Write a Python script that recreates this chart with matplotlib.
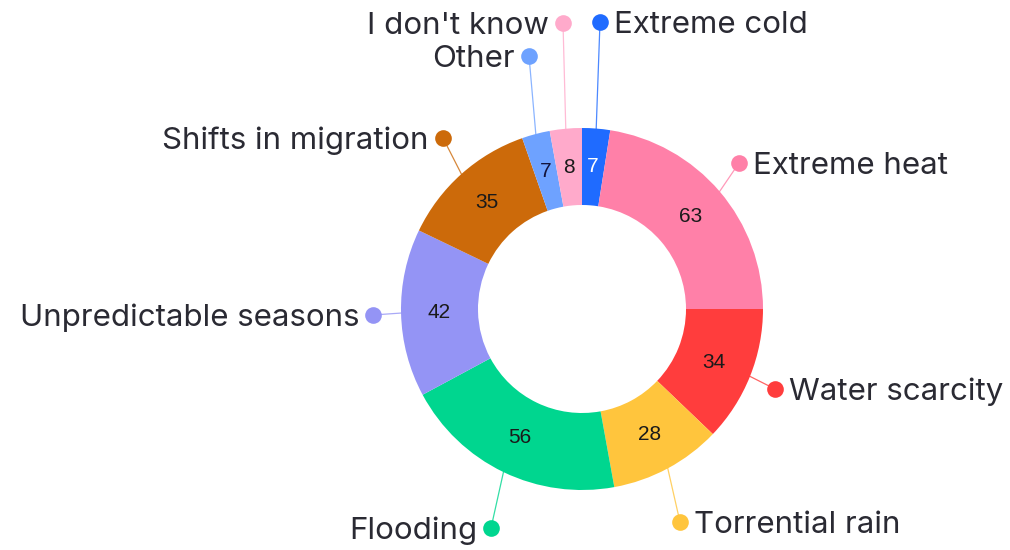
import numpy as np
import matplotlib
matplotlib.use("Agg")
import matplotlib.pyplot as plt

categories = ["Extreme cold", "Extreme heat", "Water scarcity", "Torrential rain",
              "Flooding", "Unpredictable seasons", "Shifts in migration", "Other",
              "I don't know"]
values = [7, 63, 34, 28, 56, 42, 35, 7, 8]
colors = ["#1f6bff", "#ff80a8", "#ff3d3d", "#ffc53d", "#00d68f", "#9494f5",
          "#cc6a0a", "#6ea2ff", "#ffaacb"]
value_colors = ["white", "#1a1a1a", "#1a1a1a", "#1a1a1a", "#1a1a1a", "#1a1a1a",
                "#1a1a1a", "#14143c", "#1a1a1a"]

W, H = 1010, 550
fig = plt.figure(figsize=(W / 100, H / 100), dpi=100)
ax = fig.add_axes([0, 0, 1, 1])
ax.set_xlim(0, W)
ax.set_ylim(0, H)
ax.set_aspect("equal")
ax.axis("off")

cx, cy = 582, H - 309
R = 181
width = 77

wedges, _ = ax.pie(values, colors=colors, startangle=90, counterclock=False,
                   radius=R, center=(cx, cy), frame=True,
                   wedgeprops=dict(width=width, linewidth=0))
ax.set_xlim(0, W)
ax.set_ylim(0, H)
ax.axis("off")

# (marker x, marker y, text side) in pixel layout
label_layout = {
    "Extreme cold": (600, 22, "right"),
    "Extreme heat": (739, 163, "right"),
    "Water scarcity": (775, 389, "right"),
    "Torrential rain": (680, 522, "right"),
    "Flooding": (491, 528, "left"),
    "Unpredictable seasons": (373, 315, "left"),
    "Shifts in migration": (443, 138, "left"),
    "Other": (529, 56, "left"),
    "I don't know": (563, 23, "left"),
}

rmid = R - width / 2
for w, cat, v, col, vc in zip(wedges, categories, values, colors, value_colors):
    ang = np.deg2rad((w.theta1 + w.theta2) / 2)
    # value label
    ax.text(cx + rmid * np.cos(ang), cy + rmid * np.sin(ang), str(v),
            ha="center", va="center", fontsize=15, color=vc,
            family="Liberation Sans")
    mx, my, side = label_layout[cat]
    my = H - my
    sx, sy = cx + R * np.cos(ang), cy + R * np.sin(ang)
    ax.plot([sx, mx], [sy, my], color=col, lw=0.9, alpha=0.8, zorder=1)
    ax.plot([mx], [my], "o", color=col, markersize=12, markeredgewidth=0, zorder=3)
    if side == "right":
        ax.text(mx + 14, my, cat, ha="left", va="center_baseline", fontsize=22.5,
                color="#2a2a33", family="Inter")
    else:
        ax.text(mx - 14, my, cat, ha="right", va="center_baseline", fontsize=22.5,
                color="#2a2a33", family="Inter")

fig.savefig("out.png", dpi=100, facecolor="white")
